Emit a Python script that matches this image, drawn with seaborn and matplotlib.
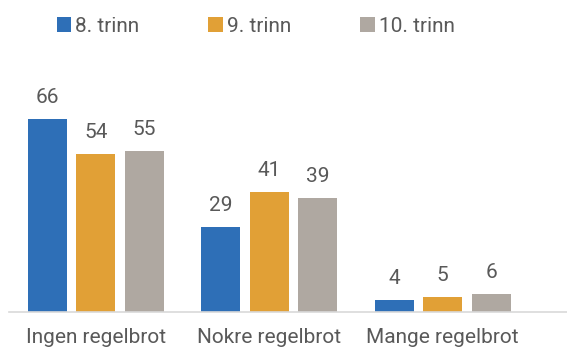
import matplotlib
matplotlib.use("Agg")
import matplotlib.pyplot as plt
from matplotlib.patches import Patch
import seaborn as sns
import pandas as pd

categories = ["Ingen regelbrot", "Nokre regelbrot", "Mange regelbrot"]
series = ["8. trinn", "9. trinn", "10. trinn"]
values_8 = [66, 29, 4]
values_9 = [54, 41, 5]
values_10 = [55, 39, 6]
colors = ["#2E6FB7", "#E1A036", "#AFA8A1"]

rows = []
for s, vals in zip(series, [values_8, values_9, values_10]):
    for c, v in zip(categories, vals):
        rows.append({"Kategori": c, "Trinn": s, "Prosent": v})
df = pd.DataFrame(rows)

sns.set_theme(style="white")
plt.rcParams["font.family"] = ["Roboto", "DejaVu Sans"]
text_color = "#595959"
fs = 15

fig = plt.figure(figsize=(5.67, 3.5), dpi=100)
ax = fig.add_axes([9 / 567, 1 - 312 / 350, 558 / 567, (312 - 60) / 350])

sns.barplot(data=df, x="Kategori", y="Prosent", hue="Trinn",
            order=categories, hue_order=series, palette=colors,
            width=0.84, gap=0.196, saturation=1, legend=False, ax=ax,
            edgecolor="none")

for cont in ax.containers:
    ax.bar_label(cont, fmt="%d", padding=9, fontsize=fs, color=text_color)

ax.set_xlim(-0.5, -0.5 + 558 / 173.5)
ax.set_ylim(0, 252 / 2.92)
ax.set_xlabel("")
ax.set_ylabel("")
ax.set_yticks([])
ax.tick_params(axis="x", length=0, pad=11.5, labelsize=fs, labelcolor=text_color)
for side in ["top", "right", "left"]:
    ax.spines[side].set_visible(False)
ax.spines["bottom"].set_color("#D9D9D9")
ax.spines["bottom"].set_linewidth(1.2)

handles = [Patch(facecolor=c, edgecolor="none", label=s) for c, s in zip(colors, series)]
fig.legend(handles=handles, loc="center", bbox_to_anchor=(0.451, 1 - 26 / 350),
           ncol=3, frameon=False, fontsize=fs, labelcolor=text_color,
           handlelength=0.7, handleheight=0.7, handletextpad=0.2,
           columnspacing=3.3)

fig.savefig("out.png", dpi=100)
